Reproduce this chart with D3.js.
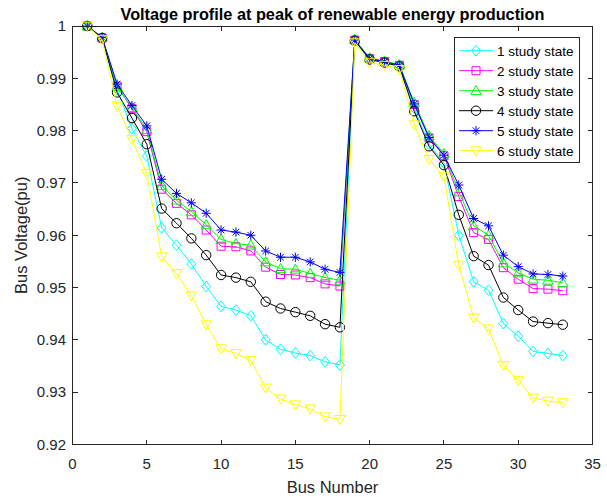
<!DOCTYPE html>
<html>
<head>
<meta charset="utf-8">
<script src="https://cdn.jsdelivr.net/npm/d3@7"></script>
<style>
  html, body { margin: 0; padding: 0; background: #fff; }
  svg { display: block; }
  text { font-family: "Liberation Sans", Arial, Helvetica, sans-serif; fill: #262626; }
</style>
</head>
<body>
<svg id="chart" width="607" height="497"></svg>
<script>
// Bus indices of the 33-bus radial feeder
const buses = d3.range(1, 34);

// Bus voltage (pu) for each study state
const state1 = [1.0000, 0.9977, 0.9879, 0.9804, 0.9751, 0.9614, 0.9581, 0.9545, 0.9502, 0.9464, 0.9457, 0.9446, 0.9400, 0.9382, 0.9375, 0.9370, 0.9358, 0.9352,
                0.9972, 0.9936, 0.9930, 0.9922, 0.9843, 0.9774, 0.9738, 0.9600, 0.9511, 0.9495, 0.9431, 0.9407, 0.9378, 0.9374, 0.9370];
const state2 = [1.0000, 0.9977, 0.9885, 0.9842, 0.9798, 0.9688, 0.9661, 0.9639, 0.9610, 0.9579, 0.9578, 0.9570, 0.9539, 0.9525, 0.9524, 0.9519, 0.9507, 0.9503,
                0.9973, 0.9938, 0.9932, 0.9925, 0.9850, 0.9786, 0.9752, 0.9674, 0.9605, 0.9592, 0.9538, 0.9516, 0.9498, 0.9497, 0.9494];
const state3 = [1.0000, 0.9978, 0.9884, 0.9844, 0.9802, 0.9695, 0.9667, 0.9645, 0.9620, 0.9592, 0.9584, 0.9581, 0.9549, 0.9536, 0.9535, 0.9527, 0.9519, 0.9514,
                0.9974, 0.9939, 0.9933, 0.9926, 0.9854, 0.9790, 0.9756, 0.9683, 0.9618, 0.9600, 0.9547, 0.9528, 0.9516, 0.9514, 0.9509];
const state4 = [1.0000, 0.9977, 0.9873, 0.9824, 0.9774, 0.9651, 0.9623, 0.9594, 0.9562, 0.9524, 0.9519, 0.9511, 0.9473, 0.9460, 0.9453, 0.9446, 0.9430, 0.9424,
                0.9972, 0.9936, 0.9930, 0.9923, 0.9837, 0.9770, 0.9734, 0.9639, 0.9560, 0.9543, 0.9481, 0.9457, 0.9435, 0.9432, 0.9429];
const state5 = [1.0000, 0.9978, 0.9889, 0.9848, 0.9809, 0.9707, 0.9680, 0.9662, 0.9642, 0.9610, 0.9606, 0.9600, 0.9570, 0.9558, 0.9558, 0.9549, 0.9535, 0.9529,
                0.9973, 0.9938, 0.9932, 0.9925, 0.9851, 0.9787, 0.9753, 0.9696, 0.9632, 0.9618, 0.9562, 0.9540, 0.9526, 0.9525, 0.9522];
const state6 = [1.0000, 0.9974, 0.9847, 0.9783, 0.9718, 0.9559, 0.9527, 0.9484, 0.9429, 0.9383, 0.9374, 0.9361, 0.9308, 0.9287, 0.9276, 0.9268, 0.9253, 0.9248,
                0.9968, 0.9930, 0.9925, 0.9917, 0.9811, 0.9745, 0.9712, 0.9543, 0.9442, 0.9421, 0.9351, 0.9323, 0.9289, 0.9283, 0.9280];

const seriesNames = ["1 study state", "2 study state", "3 study state", "4 study state", "5 study state", "6 study state"];
const seriesColors = ["#00ffff", "#ff00ff", "#00ff00", "#000000", "#0000ff", "#ffff00"];
const seriesMarkers = ["diamond", "square", "triangleUp", "circle", "asterisk", "triangleDown"];
const seriesValues = [state1, state2, state3, state4, state5, state6];

const xTicks = [0, 5, 10, 15, 20, 25, 30, 35];
const yTicks = [0.92, 0.93, 0.94, 0.95, 0.96, 0.97, 0.98, 0.99, 1];

const svg = d3.select("#chart");
const plotLeft = 72.5, plotRight = 592.5, plotTop = 26, plotBottom = 444.5;

const x = d3.scaleLinear().domain([0, 35]).range([plotLeft, plotRight]);
const y = d3.scaleLinear().domain([0.92, 1]).range([plotBottom, plotTop]);

// Marker path generator, centred on the origin
function markerPath(kind) {
  switch (kind) {
    case "diamond":      return "M0,-5.4L4.4,0L0,5.4L-4.4,0Z";
    case "square":       return "M-4,-4L4,-4L4,4L-4,4Z";
    case "triangleUp":   return "M0,-5.2L5.2,3.9L-5.2,3.9Z";
    case "triangleDown": return "M0,5.2L5.2,-3.9L-5.2,-3.9Z";
    case "circle":       return d3.arc()({innerRadius: 0, outerRadius: 4.7, startAngle: 0, endAngle: 2 * Math.PI});
    case "asterisk":     return "M-4.6,0L4.6,0M0,-4.6L0,4.6M-3.3,-3.3L3.3,3.3M-3.3,3.3L3.3,-3.3";
  }
}

// Series lines and markers
const plot = svg.append("g");
const line = d3.line().x((d, i) => x(buses[i])).y(d => y(d));
seriesValues.forEach((vals, s) => {
  const g = plot.append("g");
  g.append("path")
    .attr("d", line(vals))
    .attr("fill", "none")
    .attr("stroke", seriesColors[s])
    .attr("stroke-width", 1);
  g.selectAll("path.m")
    .data(vals)
    .enter().append("path")
    .attr("class", "m")
    .attr("d", markerPath(seriesMarkers[s]))
    .attr("transform", (d, i) => `translate(${x(buses[i])},${y(d)})`)
    .attr("fill", "none")
    .attr("stroke", seriesColors[s])
    .attr("stroke-width", 1);
});

// Axes with inward ticks on all four sides
const axisColor = "#262626";
const tickLen = 5;
const axes = svg.append("g").attr("stroke", axisColor).attr("stroke-width", 1).attr("shape-rendering", "crispEdges");
axes.append("rect")
  .attr("x", plotLeft).attr("y", plotTop)
  .attr("width", plotRight - plotLeft).attr("height", plotBottom - plotTop)
  .attr("fill", "none");
xTicks.forEach(t => {
  axes.append("line").attr("x1", x(t)).attr("x2", x(t)).attr("y1", plotBottom).attr("y2", plotBottom - tickLen);
  axes.append("line").attr("x1", x(t)).attr("x2", x(t)).attr("y1", plotTop).attr("y2", plotTop + tickLen);
});
yTicks.forEach(t => {
  axes.append("line").attr("x1", plotLeft).attr("x2", plotLeft + tickLen).attr("y1", y(t)).attr("y2", y(t));
  axes.append("line").attr("x1", plotRight).attr("x2", plotRight - tickLen).attr("y1", y(t)).attr("y2", y(t));
});

// Tick labels
svg.append("g").selectAll("text")
  .data(xTicks).enter().append("text")
  .attr("x", d => x(d)).attr("y", 468.5)
  .attr("text-anchor", "middle")
  .style("font-size", "15px")
  .text(d => d);
svg.append("g").selectAll("text")
  .data(yTicks).enter().append("text")
  .attr("x", plotLeft - 6.5).attr("y", d => y(d) + 5.3)
  .attr("text-anchor", "end")
  .style("font-size", "15px")
  .text(d => d3.format("")(d));

// Axis titles
svg.append("text")
  .attr("x", (plotLeft + plotRight) / 2).attr("y", 493)
  .attr("text-anchor", "middle")
  .style("font-size", "16.5px")
  .text("Bus Number");
svg.append("text")
  .attr("transform", `translate(27,${(plotTop + plotBottom) / 2}) rotate(-90)`)
  .attr("text-anchor", "middle")
  .style("font-size", "16.5px")
  .text("Bus Voltage(pu)");

// Title
svg.append("text")
  .attr("x", (plotLeft + plotRight) / 2).attr("y", 19.5)
  .attr("text-anchor", "middle")
  .style("font-size", "16.3px")
  .style("font-weight", "bold")
  .style("fill", "#000")
  .text("Voltage profile at peak of renewable energy production");

// Legend
const legend = svg.append("g");
legend.append("rect")
  .attr("x", 454.5).attr("y", 37.5)
  .attr("width", 125).attr("height", 125)
  .attr("fill", "#fff").attr("stroke", axisColor).attr("stroke-width", 1)
  .attr("shape-rendering", "crispEdges");
seriesNames.forEach((name, s) => {
  const cy = 50.7 + s * 20;
  legend.append("line")
    .attr("x1", 459).attr("x2", 493).attr("y1", cy).attr("y2", cy)
    .attr("stroke", seriesColors[s]).attr("stroke-width", 1);
  legend.append("path")
    .attr("d", markerPath(seriesMarkers[s]))
    .attr("transform", `translate(476,${cy})`)
    .attr("fill", "none").attr("stroke", seriesColors[s]).attr("stroke-width", 1);
  legend.append("text")
    .attr("x", 497).attr("y", cy + 4.8)
    .style("font-size", "13.5px")
    .style("fill", "#000")
    .text(name);
});
</script>
</body>
</html>
